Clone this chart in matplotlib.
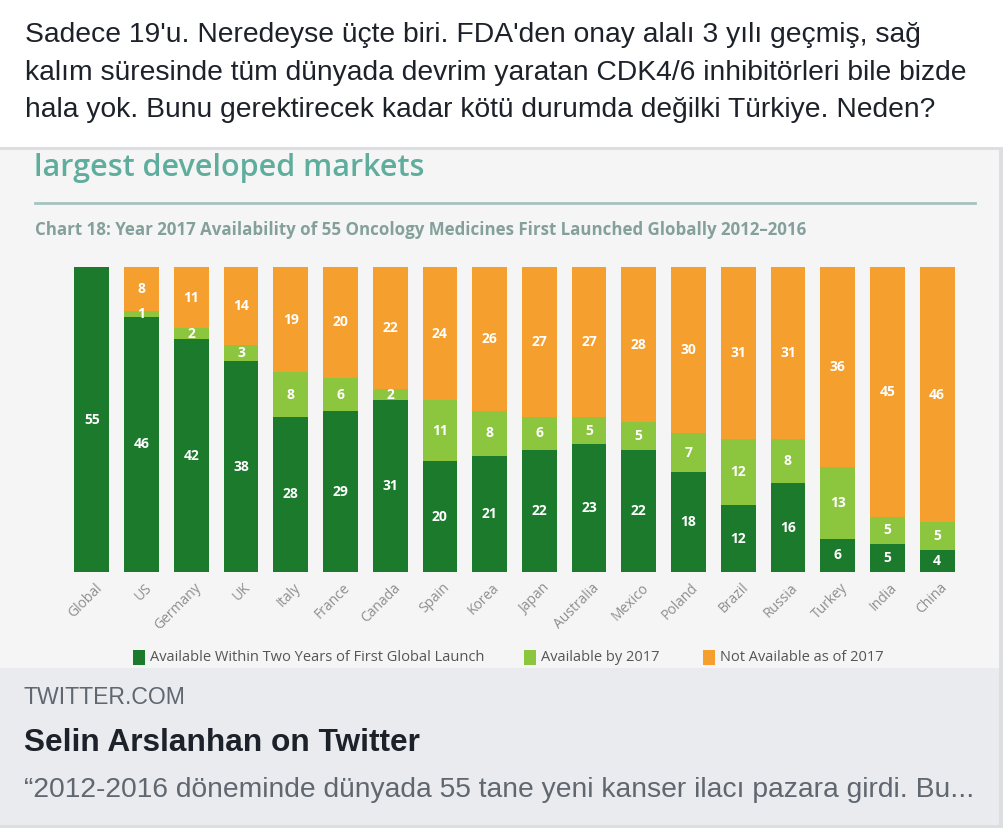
import matplotlib
matplotlib.use("Agg")
import matplotlib.pyplot as plt
from matplotlib.patches import Rectangle
import numpy as np

# data
countries = ["Global", "US", "Germany", "UK", "Italy", "France", "Canada", "Spain", "Korea",
             "Japan", "Australia", "Mexico", "Poland", "Brazil", "Russia", "Turkey", "India", "China"]
within_two_years = [55, 46, 42, 38, 28, 29, 31, 20, 21, 22, 23, 22, 18, 12, 16, 6, 5, 4]
by_2017 = [0, 1, 2, 3, 8, 6, 2, 11, 8, 6, 5, 5, 7, 12, 8, 13, 5, 5]
not_available = [0, 8, 11, 14, 19, 20, 22, 24, 26, 27, 27, 28, 30, 31, 31, 36, 45, 46]
series_names = ["Available Within Two Years of First Global Launch",
                "Available by 2017", "Not Available as of 2017"]

post_lines = ["Sadece 19'u. Neredeyse üçte biri. FDA'den onay alalı 3 yılı geçmiş, sağ",
              "kalım süresinde tüm dünyada devrim yaratan CDK4/6 inhibitörleri bile bizde",
              "hala yok. Bunu gerektirecek kadar kötü durumda değilki Türkiye. Neden?"]

DARK = "#1c7a2d"
LIGHT = "#8cc63f"
ORANGE = "#f59f2e"

W, H = 1006, 830
fig = plt.figure(figsize=(W / 100, H / 100), dpi=100)
fig.patch.set_facecolor("white")


def fx(x):
    return x / W


def fy(y):
    return 1 - y / H


def box(x0, y0, x1, y1, color, z=-5):
    fig.patches.append(Rectangle((fx(x0), fy(y1)), fx(x1) - fx(x0), fy(y0) - fy(y1),
                                 transform=fig.transFigure, facecolor=color,
                                 edgecolor="none", zorder=z))


# post text
for i, line in enumerate(post_lines):
    fig.text(fx(25), fy(42 + i * 37.5), line, fontsize=20.3, family="Liberation Sans",
             color="#1d2129", va="baseline")

# card: image area + link footer
box(0, 147, 1003, 150, "#dcdee2")
box(0, 150, 999, 668, "#f5f5f5")
box(999, 147, 1003, 828, "#dcdee2")
box(0, 668, 999, 825, "#e9ebee")
box(0, 825, 1003, 828, "#dcdee2")

# chart header
fig.text(fx(34), fy(168), "largest developed markets", fontsize=22, family="Open Sans",
         weight="semibold", color="#5fae9d", va="center")
fig.lines.append(plt.Line2D([fx(35), fx(975)], [fy(203), fy(203)], transform=fig.transFigure,
                            color="#a6c3bf", lw=2))
fig.text(fx(35), fy(230),
         "Chart 18: Year 2017 Availability of 55 Oncology Medicines First Launched Globally 2012\u20132016",
         fontsize=12.2, family="Open Sans", weight="bold", color="#83a09b", va="center")

# bars
ax = fig.add_axes([fx(67), fy(572), fx(962) - fx(67), fy(267) - fy(572)])
ax.set_zorder(3)
ax.set_facecolor("none")
x = np.arange(len(countries))
a = np.array(within_two_years)
b = np.array(by_2017)
c = np.array(not_available)
bw = 0.70
ax.bar(x, a, width=bw, color=DARK)
ax.bar(x, b, width=bw, bottom=a, color=LIGHT)
ax.bar(x, c, width=bw, bottom=a + b, color=ORANGE)
for i in range(len(countries)):
    for val, base in ((a[i], 0), (b[i], a[i]), (c[i], a[i] + b[i])):
        if val > 0:
            ax.text(x[i], base + val / 2, str(val), ha="center", va="center", color="white",
                    fontsize=10, weight="bold", family="Open Sans")
ax.set_xlim(-0.5, len(countries) - 0.5)
ax.set_ylim(0, 55)
for s in ax.spines.values():
    s.set_visible(False)
ax.set_yticks([])
ax.set_xticks(x + 0.05)
ax.set_xticklabels(countries, rotation=45, ha="right", rotation_mode="anchor",
                   fontsize=10, color="#8e8e8e", family="Open Sans")
ax.tick_params(axis="x", length=0, pad=6)

# legend
legend_x = [133, 524, 703]
for lx, name, col in zip(legend_x, series_names, [DARK, LIGHT, ORANGE]):
    box(lx, 650, lx + 12, 665, col, z=2)
    fig.text(fx(lx + 17), fy(657.5), name, fontsize=10.5, family="Open Sans", color="#555555",
             va="center")

# link preview footer
fig.text(fx(24), fy(697), "TWITTER.COM", fontsize=16.6, family="Liberation Sans",
         color="#606770", va="center")
fig.text(fx(24), fy(743), "Selin Arslanhan on Twitter", fontsize=22.8, family="Liberation Sans",
         weight="bold", color="#1d2129", va="center")
fig.text(fx(24), fy(790), "\u201c2012-2016 döneminde dünyada 55 tane yeni kanser ilacı pazara girdi. Bu...",
         fontsize=20.3, family="Liberation Sans", color="#606770", va="center")

fig.savefig("out.png", dpi=100)
